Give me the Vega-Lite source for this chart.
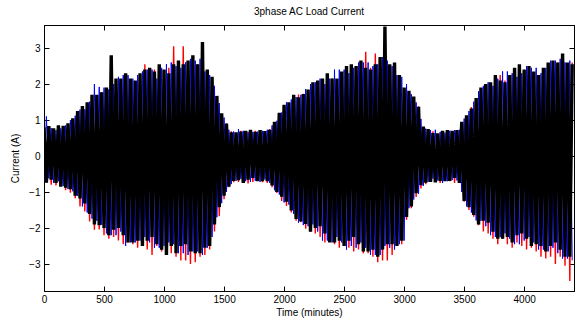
{
"$schema": "https://vega.github.io/schema/vega-lite/v6.json",
"width": 530, "height": 266,
"autosize": "none",
"padding": {"left": 44, "top": 25, "right": 1, "bottom": 31},
"background": "white",
"title": {"text": "3phase AC Load Current", "font": "Liberation Sans", "fontSize": 10, "fontWeight": "normal", "color": "black", "offset": 8},
"config": {
  "view": {"stroke": "black", "strokeWidth": 1},
  "axis": {"domainColor": "black", "tickColor": "black", "labelColor": "black", "titleColor": "black", "labelFont": "Liberation Sans", "titleFont": "Liberation Sans", "labelFontSize": 10, "titleFontSize": 10, "titleFontWeight": "normal", "grid": false, "tickSize": -5}
},
"data": {"values": [
{"t":0,"r":0.64,"b":-0.72,"k":0.8},
{"t":20,"r":-0.74,"b":1.1,"k":-0.74},
{"t":40,"r":0.66,"b":-0.62,"k":0.83},
{"t":60,"r":-0.8,"b":0.78,"k":-0.66},
{"t":80,"r":0.65,"b":-0.75,"k":0.77},
{"t":100,"r":-0.82,"b":0.72,"k":-0.75},
{"t":120,"r":0.74,"b":-0.7,"k":0.85},
{"t":140,"r":-0.73,"b":0.77,"k":-0.85},
{"t":160,"r":0.76,"b":-0.83,"k":0.84},
{"t":180,"r":-0.95,"b":0.85,"k":-0.88},
{"t":200,"r":0.85,"b":-0.92,"k":0.91},
{"t":220,"r":-1.02,"b":1.0,"k":-0.92},
{"t":240,"r":0.94,"b":-0.98,"k":1.05},
{"t":260,"r":-1.17,"b":1.12,"k":-1.1},
{"t":280,"r":0.92,"b":-1.11,"k":1.25},
{"t":300,"r":-1.4,"b":1.29,"k":-1.18},
{"t":320,"r":1.21,"b":-1.4,"k":1.39},
{"t":340,"r":-1.54,"b":1.3,"k":-1.32},
{"t":360,"r":1.33,"b":-1.57,"k":1.49},
{"t":380,"r":-1.82,"b":1.51,"k":-1.61},
{"t":400,"r":1.42,"b":-1.74,"k":1.7},
{"t":420,"r":-2.05,"b":2.0,"k":-1.9},
{"t":440,"r":1.61,"b":-1.8,"k":1.7},
{"t":460,"r":-2.04,"b":1.92,"k":-1.92},
{"t":480,"r":1.78,"b":-1.91,"k":1.77},
{"t":500,"r":-2.2,"b":1.9,"k":-2.0},
{"t":520,"r":1.7,"b":-2.15,"k":1.9},
{"t":540,"r":-2.3,"b":1.85,"k":-2.2},
{"t":560,"r":1.9,"b":-2.2,"k":2.8},
{"t":580,"r":-2.25,"b":2.0,"k":-2.05},
{"t":600,"r":1.9,"b":-2.2,"k":2.15},
{"t":620,"r":-2.35,"b":2.2,"k":-2.0},
{"t":640,"r":1.85,"b":-2.1,"k":2.15},
{"t":660,"r":-2.45,"b":2.25,"k":-2.2},
{"t":680,"r":2.05,"b":-2.5,"k":2.3},
{"t":700,"r":-2.4,"b":2.25,"k":-2.4},
{"t":720,"r":2.05,"b":-2.4,"k":2.15},
{"t":740,"r":-2.45,"b":2.15,"k":-2.4},
{"t":760,"r":2.0,"b":-2.4,"k":2.1},
{"t":780,"r":-2.55,"b":2.25,"k":-2.35},
{"t":800,"r":2.2,"b":-2.35,"k":2.3},
{"t":820,"r":-2.5,"b":2.35,"k":-2.5},
{"t":840,"r":2.55,"b":-2.25,"k":2.4},
{"t":860,"r":-2.6,"b":2.4,"k":-2.35},
{"t":880,"r":2.1,"b":-2.4,"k":2.45},
{"t":900,"r":-2.75,"b":2.4,"k":-2.25},
{"t":920,"r":2.4,"b":-2.55,"k":2.35},
{"t":940,"r":-2.5,"b":2.15,"k":-2.45},
{"t":960,"r":2.25,"b":-2.55,"k":2.55},
{"t":980,"r":-2.65,"b":2.45,"k":-2.6},
{"t":1000,"r":2.2,"b":-2.5,"k":2.4},
{"t":1020,"r":-2.75,"b":2.55,"k":-2.75},
{"t":1040,"r":2.45,"b":-2.4,"k":2.3},
{"t":1060,"r":-2.7,"b":2.6,"k":-2.5},
{"t":1080,"r":3.05,"b":-2.45,"k":2.55},
{"t":1100,"r":-2.8,"b":2.5,"k":-2.7},
{"t":1120,"r":2.3,"b":-2.7,"k":2.65},
{"t":1140,"r":-2.9,"b":2.45,"k":-2.5},
{"t":1160,"r":3.05,"b":-2.7,"k":2.55},
{"t":1180,"r":-2.9,"b":2.6,"k":-2.45},
{"t":1200,"r":2.45,"b":-2.75,"k":2.65},
{"t":1220,"r":-3.0,"b":2.7,"k":-2.65},
{"t":1240,"r":2.3,"b":-2.65,"k":2.8},
{"t":1260,"r":-2.95,"b":2.65,"k":-2.7},
{"t":1280,"r":2.55,"b":-2.65,"k":2.55},
{"t":1300,"r":-2.8,"b":2.7,"k":-2.7},
{"t":1320,"r":2.4,"b":-2.75,"k":3.17},
{"t":1340,"r":-2.75,"b":2.35,"k":-2.55},
{"t":1360,"r":2.2,"b":-2.55,"k":2.4},
{"t":1380,"r":-2.6,"b":2.25,"k":-2.5},
{"t":1400,"r":1.95,"b":-2.25,"k":2.2},
{"t":1420,"r":-2.1,"b":1.95,"k":-1.9},
{"t":1440,"r":1.48,"b":-1.7,"k":1.67},
{"t":1460,"r":-1.67,"b":1.47,"k":-1.42},
{"t":1480,"r":1.12,"b":-1.31,"k":1.19},
{"t":1500,"r":-1.2,"b":1.07,"k":-1.1},
{"t":1520,"r":0.9,"b":-1.0,"k":0.9},
{"t":1540,"r":-0.87,"b":0.73,"k":-0.85},
{"t":1560,"r":0.69,"b":-0.78,"k":0.66},
{"t":1580,"r":-0.73,"b":0.68,"k":-0.69},
{"t":1600,"r":0.61,"b":-0.69,"k":0.66},
{"t":1620,"r":-0.72,"b":0.75,"k":-0.67},
{"t":1640,"r":0.7,"b":-0.63,"k":0.68},
{"t":1660,"r":-0.67,"b":0.7,"k":-0.75},
{"t":1680,"r":0.66,"b":-0.7,"k":0.7},
{"t":1700,"r":-0.76,"b":0.67,"k":-0.66},
{"t":1720,"r":0.61,"b":-0.72,"k":0.73},
{"t":1740,"r":-0.72,"b":0.67,"k":-0.61},
{"t":1760,"r":0.7,"b":-0.69,"k":0.67},
{"t":1780,"r":-0.67,"b":0.68,"k":-0.7},
{"t":1800,"r":0.66,"b":-0.72,"k":0.72},
{"t":1820,"r":-0.73,"b":0.7,"k":-0.7},
{"t":1840,"r":0.61,"b":-0.65,"k":0.69},
{"t":1860,"r":-0.75,"b":0.73,"k":-0.7},
{"t":1880,"r":0.75,"b":-0.75,"k":0.73},
{"t":1900,"r":-0.87,"b":0.85,"k":-0.82},
{"t":1920,"r":0.89,"b":-0.95,"k":0.95},
{"t":1940,"r":-1.03,"b":0.98,"k":-1.0},
{"t":1960,"r":0.97,"b":-1.07,"k":1.2},
{"t":1980,"r":-1.25,"b":1.21,"k":-1.13},
{"t":2000,"r":1.31,"b":-1.29,"k":1.42},
{"t":2020,"r":-1.39,"b":1.5,"k":-1.27},
{"t":2040,"r":1.43,"b":-1.35,"k":1.49},
{"t":2060,"r":-1.57,"b":1.57,"k":-1.51},
{"t":2080,"r":1.47,"b":-1.61,"k":1.7},
{"t":2100,"r":-1.8,"b":1.64,"k":-1.75},
{"t":2120,"r":1.71,"b":-1.85,"k":1.63},
{"t":2140,"r":-1.84,"b":1.7,"k":-1.82},
{"t":2160,"r":1.73,"b":-1.92,"k":1.72},
{"t":2180,"r":-2.02,"b":1.86,"k":-1.89},
{"t":2200,"r":1.65,"b":-1.95,"k":1.85},
{"t":2220,"r":-2.1,"b":2.0,"k":-2.1},
{"t":2240,"r":1.9,"b":-1.9,"k":2.05},
{"t":2260,"r":-2.15,"b":2.05,"k":-2.0},
{"t":2280,"r":2.0,"b":-2.1,"k":2.1},
{"t":2300,"r":-2.25,"b":2.15,"k":-1.95},
{"t":2320,"r":1.85,"b":-2.35,"k":2.15},
{"t":2340,"r":-2.4,"b":2.0,"k":-2.15},
{"t":2360,"r":2.15,"b":-2.35,"k":2.3},
{"t":2380,"r":-2.35,"b":2.15,"k":-2.4},
{"t":2400,"r":2.15,"b":-2.4,"k":2.15},
{"t":2420,"r":-2.45,"b":2.4,"k":-2.4},
{"t":2440,"r":2.1,"b":-2.25,"k":2.15},
{"t":2460,"r":-2.55,"b":2.4,"k":-2.35},
{"t":2480,"r":2.3,"b":-2.4,"k":2.35},
{"t":2500,"r":-2.5,"b":2.4,"k":-2.5},
{"t":2520,"r":2.3,"b":-2.6,"k":2.5},
{"t":2540,"r":-2.55,"b":2.3,"k":-2.35},
{"t":2560,"r":2.25,"b":-2.5,"k":2.55},
{"t":2580,"r":-2.65,"b":2.45,"k":-2.25},
{"t":2600,"r":2.4,"b":-2.55,"k":2.5},
{"t":2620,"r":-2.6,"b":2.6,"k":-2.45},
{"t":2640,"r":2.4,"b":-2.4,"k":2.65},
{"t":2660,"r":-2.7,"b":2.6,"k":-2.65},
{"t":2680,"r":2.9,"b":-2.55,"k":2.45},
{"t":2700,"r":-2.7,"b":2.6,"k":-2.65},
{"t":2720,"r":2.45,"b":-2.75,"k":2.4},
{"t":2740,"r":-2.8,"b":2.5,"k":-2.6},
{"t":2760,"r":2.85,"b":-2.75,"k":2.55},
{"t":2780,"r":-2.95,"b":2.55,"k":-2.8},
{"t":2800,"r":2.55,"b":-2.75,"k":2.75},
{"t":2820,"r":-2.9,"b":2.75,"k":-2.6},
{"t":2840,"r":2.45,"b":-2.5,"k":3.6},
{"t":2860,"r":-2.9,"b":2.65,"k":-2.45},
{"t":2880,"r":2.5,"b":-2.55,"k":2.55},
{"t":2900,"r":-2.75,"b":2.5,"k":-2.45},
{"t":2920,"r":2.4,"b":-2.6,"k":2.6},
{"t":2940,"r":-2.45,"b":2.25,"k":-2.5},
{"t":2960,"r":2.25,"b":-2.45,"k":2.25},
{"t":2980,"r":-2.45,"b":2.2,"k":-2.35},
{"t":3000,"r":1.85,"b":-2.35,"k":1.9},
{"t":3020,"r":-1.77,"b":2.0,"k":-1.69},
{"t":3040,"r":1.67,"b":-1.45,"k":1.81},
{"t":3060,"r":-1.45,"b":1.72,"k":-1.4},
{"t":3080,"r":1.61,"b":-1.21,"k":1.65},
{"t":3100,"r":-1.14,"b":1.49,"k":-1.03},
{"t":3120,"r":1.38,"b":-1.05,"k":1.37},
{"t":3140,"r":-0.9,"b":1.03,"k":-0.81},
{"t":3160,"r":0.79,"b":-0.83,"k":0.82},
{"t":3180,"r":-0.78,"b":0.76,"k":-0.74},
{"t":3200,"r":0.68,"b":-0.72,"k":0.75},
{"t":3220,"r":-0.72,"b":0.72,"k":-0.72},
{"t":3240,"r":0.69,"b":-0.63,"k":0.64},
{"t":3260,"r":-0.7,"b":0.73,"k":-0.73},
{"t":3280,"r":0.61,"b":-0.68,"k":0.63},
{"t":3300,"r":-0.75,"b":0.67,"k":-0.69},
{"t":3320,"r":0.68,"b":-0.75,"k":0.7},
{"t":3340,"r":-0.67,"b":0.65,"k":-0.7},
{"t":3360,"r":0.69,"b":-0.7,"k":0.72},
{"t":3380,"r":-0.7,"b":0.7,"k":-0.69},
{"t":3400,"r":0.61,"b":-0.67,"k":0.7},
{"t":3420,"r":-0.75,"b":0.72,"k":-0.61},
{"t":3440,"r":0.68,"b":-0.68,"k":0.72},
{"t":3460,"r":-0.75,"b":0.73,"k":-0.75},
{"t":3480,"r":0.84,"b":-1.0,"k":0.95},
{"t":3500,"r":-1.27,"b":1.04,"k":-1.25},
{"t":3520,"r":1.02,"b":-1.4,"k":1.13},
{"t":3540,"r":-1.5,"b":1.25,"k":-1.42},
{"t":3560,"r":1.36,"b":-1.57,"k":1.32},
{"t":3580,"r":-1.69,"b":1.51,"k":-1.64},
{"t":3600,"r":1.53,"b":-1.79,"k":1.61},
{"t":3620,"r":-1.92,"b":1.8,"k":-1.9},
{"t":3640,"r":1.67,"b":-1.8,"k":1.9},
{"t":3660,"r":-2.1,"b":1.95,"k":-1.8},
{"t":3680,"r":1.85,"b":-1.95,"k":2.0},
{"t":3700,"r":-2.15,"b":2.05,"k":-1.85},
{"t":3720,"r":1.9,"b":-2.2,"k":2.05},
{"t":3740,"r":-2.3,"b":1.95,"k":-2.1},
{"t":3760,"r":1.85,"b":-2.25,"k":2.25},
{"t":3780,"r":-2.45,"b":2.15,"k":-2.3},
{"t":3800,"r":2.25,"b":-2.25,"k":2.1},
{"t":3820,"r":-2.3,"b":2.35,"k":-2.3},
{"t":3840,"r":2.1,"b":-2.15,"k":2.05},
{"t":3860,"r":-2.45,"b":2.35,"k":-2.25},
{"t":3880,"r":2.05,"b":-2.3,"k":2.25},
{"t":3900,"r":-2.55,"b":2.3,"k":-2.4},
{"t":3920,"r":2.25,"b":-2.45,"k":2.45},
{"t":3940,"r":-2.4,"b":2.2,"k":-2.2},
{"t":3960,"r":2.25,"b":-2.45,"k":2.55},
{"t":3980,"r":-2.5,"b":2.3,"k":-2.15},
{"t":4000,"r":2.1,"b":-2.35,"k":2.4},
{"t":4020,"r":-2.6,"b":2.5,"k":-2.3},
{"t":4040,"r":2.45,"b":-2.25,"k":2.5},
{"t":4060,"r":-2.55,"b":2.45,"k":-2.5},
{"t":4080,"r":2.3,"b":-2.4,"k":2.35},
{"t":4100,"r":-2.65,"b":2.45,"k":-2.45},
{"t":4120,"r":2.25,"b":-2.6,"k":2.25},
{"t":4140,"r":-2.8,"b":2.3,"k":-2.5},
{"t":4160,"r":2.35,"b":-2.6,"k":2.45},
{"t":4180,"r":-2.85,"b":2.45,"k":-2.65},
{"t":4200,"r":2.4,"b":-2.65,"k":2.6},
{"t":4220,"r":-2.8,"b":2.65,"k":-2.5},
{"t":4240,"r":2.3,"b":-2.55,"k":2.65},
{"t":4260,"r":-3.0,"b":2.65,"k":-2.4},
{"t":4280,"r":2.6,"b":-2.7,"k":2.6},
{"t":4300,"r":-2.8,"b":2.7,"k":-2.6},
{"t":4320,"r":2.5,"b":-2.85,"k":2.85},
{"t":4340,"r":-3.05,"b":2.6,"k":-2.8},
{"t":4360,"r":2.5,"b":-2.85,"k":2.6},
{"t":4380,"r":-3.47,"b":2.65,"k":-2.8},
{"t":4400,"r":2.6,"b":-2.9,"k":2.55}
]},
"resolve": {"axis": {"x": "independent", "y": "independent"}},
"layer": [
  {"mark": {"type": "line", "color": "#ff0000", "strokeWidth": 1.4, "strokeJoin": "bevel", "clip": true},
   "encoding": {
     "x": {"field": "t", "type": "quantitative", "scale": {"domain": [0, 4415], "nice": false, "zero": false},
           "axis": {"orient": "bottom", "title": "Time (minutes)", "format": "d", "values": [0,500,1000,1500,2000,2500,3000,3500,4000], "labelPadding": 8, "titlePadding": 3, "labelFlush": false}},
     "y": {"field": "r", "type": "quantitative", "scale": {"domain": [-3.75, 3.64], "nice": false, "zero": false},
           "axis": {"orient": "left", "title": "Current (A)", "values": [-3,-2,-1,0,1,2,3], "labelPadding": 9, "titlePadding": 8}}
   }},
  {"mark": {"type": "line", "color": "#0000ff", "strokeWidth": 1.0, "strokeJoin": "bevel", "clip": true},
   "encoding": {
     "x": {"field": "t", "type": "quantitative", "axis": null},
     "y": {"field": "b", "type": "quantitative", "axis": null}
   }},
  {"mark": {"type": "line", "color": "#000000", "strokeWidth": 3.4, "strokeJoin": "bevel", "clip": true},
   "encoding": {
     "x": {"field": "t", "type": "quantitative",
           "axis": {"orient": "top", "title": null, "labels": false, "values": [0,500,1000,1500,2000,2500,3000,3500,4000]}},
     "y": {"field": "k", "type": "quantitative",
           "axis": {"orient": "right", "title": null, "labels": false, "values": [-3,-2,-1,0,1,2,3]}}
   }}
]
}
